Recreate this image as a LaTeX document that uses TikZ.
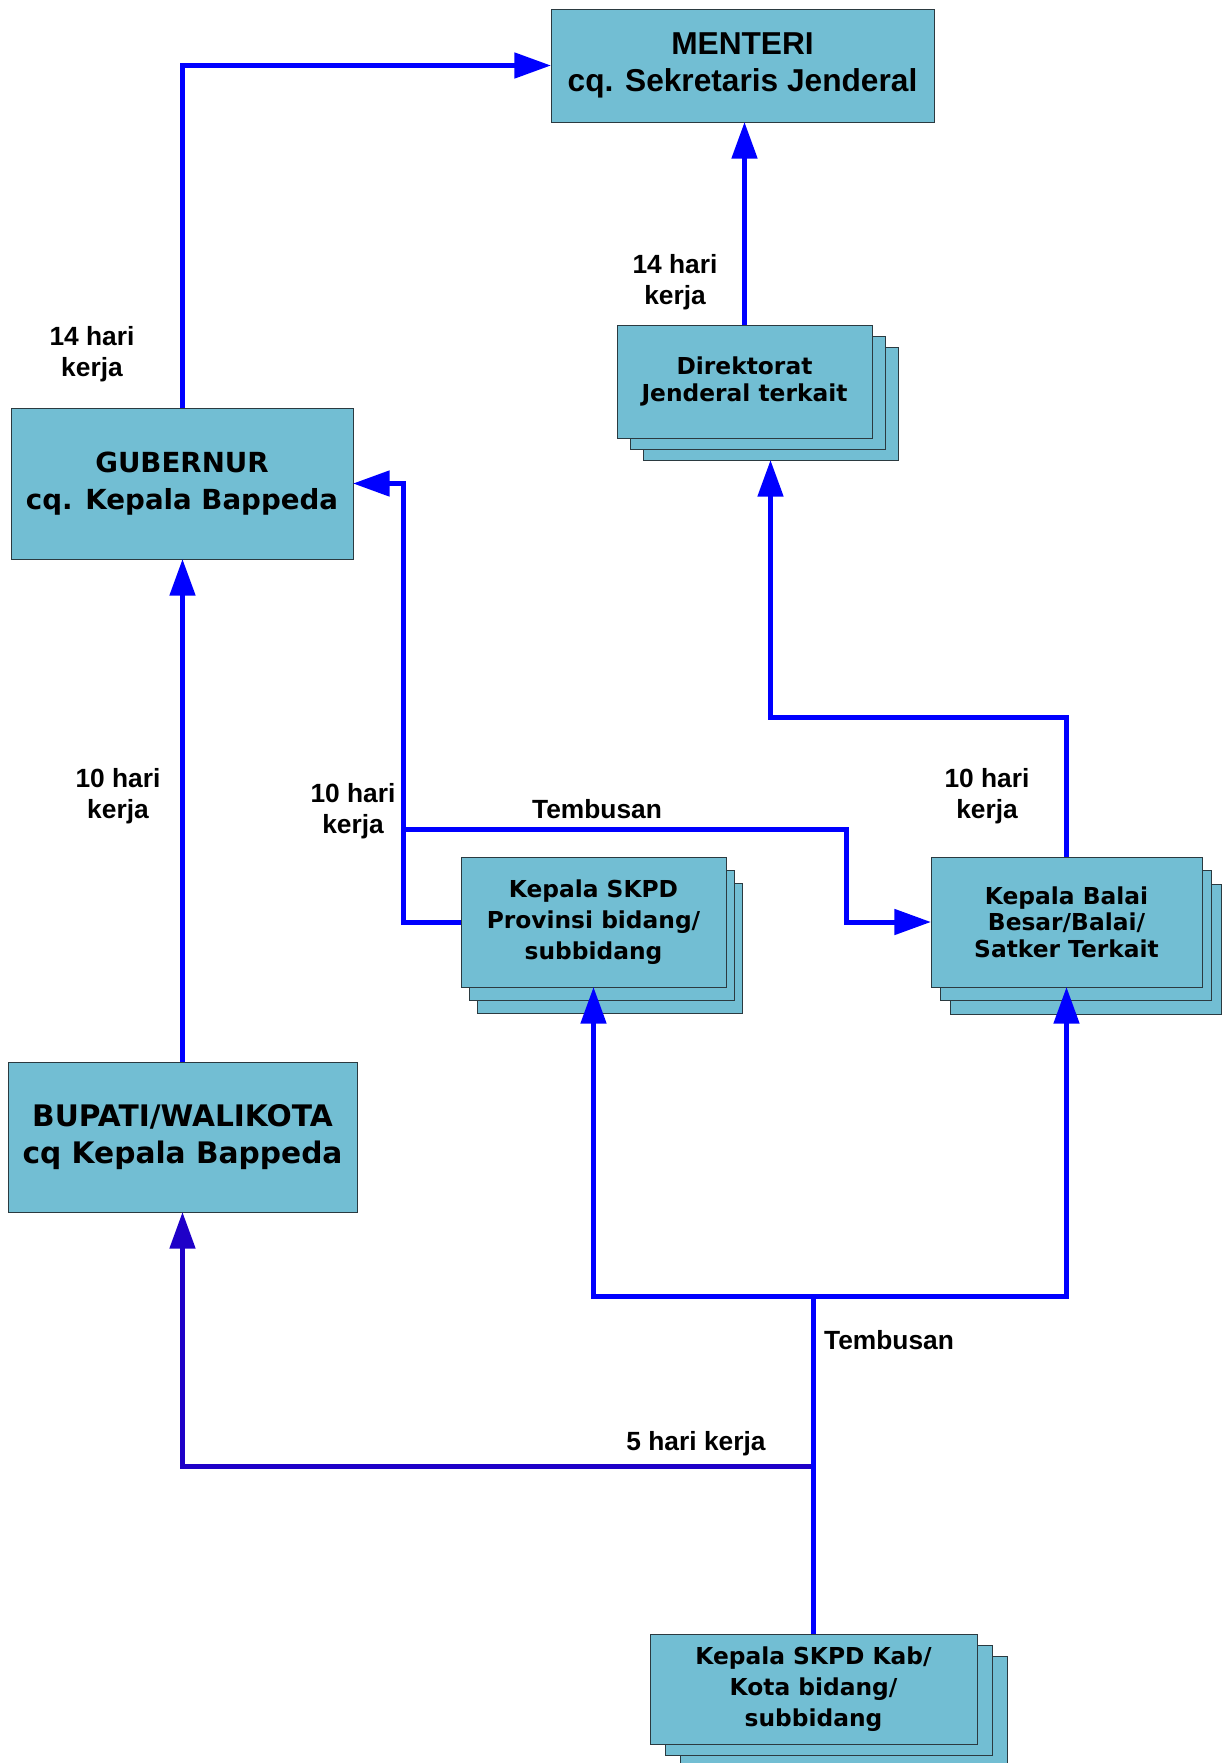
\documentclass[tikz,border=0pt]{standalone}
\usepackage{fontspec}
\setmainfont{DejaVu Sans}
\newfontfamily\arialfont{Liberation Sans}
\usetikzlibrary{arrows.meta}
\definecolor{boxfill}{HTML}{72BED3}
\definecolor{boxline}{HTML}{2B3A40}
\definecolor{flowblue}{HTML}{0000FF}
\definecolor{flowdeep}{HTML}{1E00C8}

\begin{document}
\begin{tikzpicture}[x=0.6pt,y=-0.6pt,>={Triangle[length=22pt,width=15pt]},
    box/.style={draw=boxline,fill=boxfill,line width=0.6pt,inner sep=0pt,outer sep=0pt,align=center},
    bigtext/.style={font=\bfseries\fontsize{#1}{22pt}\selectfont},
    smalltext/.style={font=\bfseries\fontsize{14pt}{#1}\selectfont},
    stackof/.style 2 args={
      preaction={draw=boxline,fill=boxfill,transform canvas={shift={(2*#1,-2*#2)}}},
      preaction={draw=boxline,fill=boxfill,transform canvas={shift={(#1,-#2)}}}},
    flow/.style={->,line width=3pt,flowblue},
    lbl/.style={font=\arialfont\bfseries\fontsize{15.8pt}{18.6pt}\selectfont,align=center}]
    \useasboundingbox (0,0) rectangle (1225,1763);

    % top level
    \node[box,minimum width=229.8pt,minimum height=67.8pt,font=\arialfont\bfseries\fontsize{19pt}{22pt}\selectfont] (men) at (742.5,65.5) {MENTERI\\cq. Sekretaris Jenderal};
    \node[box,smalltext=16.4pt,stackof={7.8pt}{6.6pt},minimum width=153pt,minimum height=67.8pt] (dir) at (744.5,381.5) {Direktorat\\Jenderal terkait};
    \node[box,bigtext=16.6pt,minimum width=205.2pt,minimum height=90.6pt] (gub) at (182,483.5) {GUBERNUR\\cq. Kepala Bappeda};
    \node[box,bigtext=17.8pt,minimum width=209.4pt,minimum height=90pt] (bup) at (182.5,1137) {BUPATI/WALIKOTA\\cq Kepala Bappeda};

    % skpd / balai
    \node[box,smalltext=18.6pt,stackof={4.8pt}{7.8pt},minimum width=159pt,minimum height=78pt] (prov) at (593.5,922) {Kepala SKPD\\Provinsi bidang/\\subbidang};
    \node[box,smalltext=15.8pt,stackof={5.7pt}{8.1pt},minimum width=162.6pt,minimum height=78pt] (bal) at (1066.5,922) {Kepala Balai\\Besar/Balai/\\Satker Terkait};
    \node[box,smalltext=18.8pt,stackof={9pt}{6.6pt},minimum width=196.2pt,minimum height=66pt] (kab) at (813.5,1689) {Kepala SKPD Kab/\\Kota bidang/\\subbidang};

    % labels
    \node[lbl] (waktugub) at (92,354) {14 hari\\kerja};
    \node[lbl] (waktudir) at (675,282) {14 hari\\kerja};
    \node[lbl] (waktubup) at (118,796) {10 hari\\kerja};
    \node[lbl] (waktuprov) at (353,811) {10 hari\\kerja};
    \node[lbl] (tembusanprov) at (597,809) {Tembusan};
    \node[lbl] (waktubal) at (987,796) {10 hari\\kerja};
    \node[lbl] (tembusankab) at (889,1340) {Tembusan};
    \node[lbl] (waktukab) at (696,1444) {5 hari kerja};

    \coordinate (dirbase) at ([xshift=15.6pt,yshift=-13.2pt]dir.south);
    \coordinate (tbstart) at (403,829);
    \path (kab.north) ++(0,-168) coordinate (lima);

    \draw[flow] (gub.north) |- (men.west);
    \draw[flow] (dir.north) -- (dir.north |- men.south);
    \draw[flow] (bup.north) -- (bup.north |- gub.south);
    \draw[flow] (prov.west) -- ++(-58,0) |- (gub.east);
    \draw[flow] (tbstart) -- ++(443,0) |- (bal.west);
    \draw[flow] (bal.north) -- ++(0,-140) -| (dirbase);
    \draw[flow,flowdeep] (lima) -| (bup.south);
    \draw[line width=3pt,flowblue] (kab.north) -- ++(0,-338) coordinate (split);
    \draw[flow] (split) -| (prov.south);
    \draw[flow] (split) -| (bal.south);
\end{tikzpicture}
\end{document}
